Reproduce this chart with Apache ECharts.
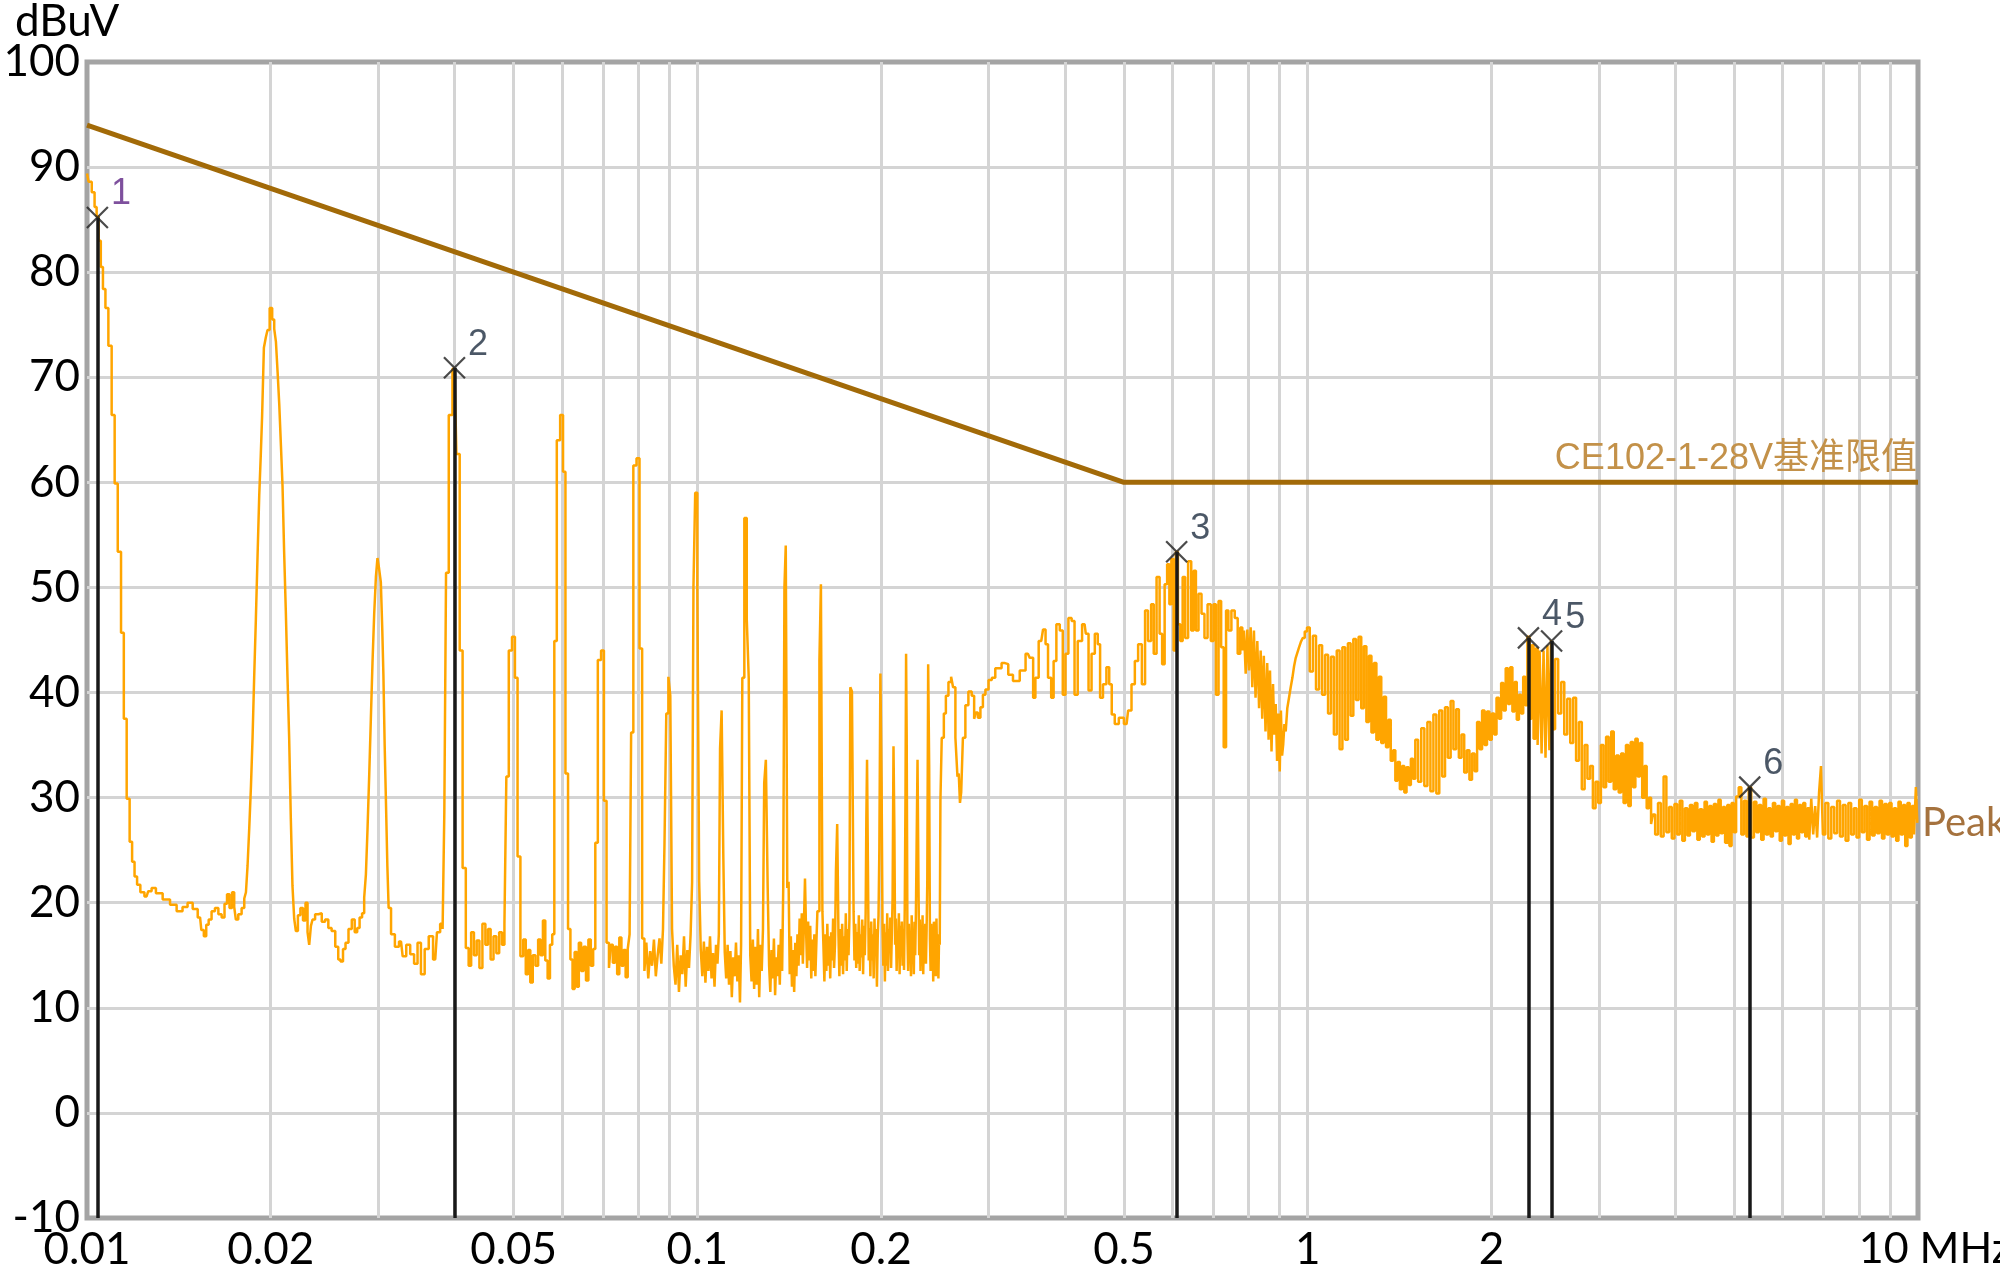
<!DOCTYPE html>
<html>
<head>
<meta charset="utf-8">
<title>CE102 Peak</title>
<script src="https://cdn.jsdelivr.net/npm/echarts/dist/echarts.min.js"></script>
<style>
  html, body { margin: 0; padding: 0; background: #fff; }
  #chart { width: 2000px; height: 1269px; }
</style>
</head>
<body>
<div id="chart"></div>
<script>
// frequency in MHz, level in dBuV
var peakLow = [
  [0.01000, 89.4], [0.01012, 88.6], [0.01024, 87.6], [0.01034, 86.2], [0.01040, 85.3], [0.01050, 83.0],
  [0.01057, 80.5], [0.01067, 78.4], [0.01077, 76.6], [0.01091, 73.0], [0.01104, 66.4], [0.01116, 59.9],
  [0.01130, 53.4], [0.01144, 45.7], [0.01154, 37.5], [0.01169, 29.9], [0.01180, 25.8], [0.01191, 23.9],
  [0.01202, 22.5], [0.01214, 21.7], [0.01232, 21.0], [0.01252, 20.6], [0.01268, 21.1], [0.01284, 21.4],
  [0.01310, 20.9], [0.01351, 20.3], [0.01385, 19.8], [0.01420, 19.2], [0.01448, 19.6], [0.01475, 20.0],
  [0.01505, 19.4], [0.01532, 18.6], [0.01547, 17.4], [0.01561, 16.8], [0.01575, 17.9], [0.01590, 18.4],
  [0.01610, 19.2], [0.01631, 19.5], [0.01652, 18.9], [0.01672, 18.6], [0.01688, 19.9], [0.01704, 20.8],
  [0.01720, 19.5], [0.01737, 21.0], [0.01748, 19.6], [0.01759, 18.4], [0.01780, 18.9], [0.01804, 19.5],
  [0.01816, 20.4], [0.01827, 21.0], [0.01838, 23.5], [0.01850, 27.0], [0.01862, 31.0], [0.01873, 35.7],
  [0.01885, 41.5], [0.01897, 47.0], [0.01909, 53.0], [0.01921, 58.7], [0.01931, 62.5], [0.01941, 66.3],
  [0.01957, 72.8], [0.01970, 73.8], [0.01982, 74.5], [0.02002, 76.6], [0.02020, 75.5], [0.02033, 74.6],
  [0.02046, 73.4], [0.02059, 70.5], [0.02072, 67.4], [0.02085, 63.5], [0.02097, 59.7], [0.02110, 53.5],
  [0.02124, 47.8], [0.02137, 41.5], [0.02151, 35.7], [0.02164, 28.0], [0.02178, 21.6], [0.02192, 18.5],
  [0.02206, 17.3], [0.02226, 18.8], [0.02248, 19.5], [0.02270, 18.3], [0.02291, 20.0], [0.02305, 17.2],
  [0.02320, 16.0], [0.02335, 17.8], [0.02349, 18.4], [0.02380, 18.9], [0.02409, 19.0], [0.02440, 18.2],
  [0.02471, 18.4], [0.02500, 17.6], [0.02533, 17.3], [0.02570, 15.8], [0.02590, 14.6], [0.02614, 14.4],
  [0.02640, 15.6], [0.02664, 16.2], [0.02700, 17.5], [0.02731, 18.4], [0.02760, 17.2], [0.02783, 17.6],
  [0.02810, 18.6], [0.02836, 19.0], [0.02855, 20.5], [0.02873, 22.7], [0.02890, 27.0], [0.02909, 32.0],
  [0.02927, 37.5], [0.02945, 42.8], [0.02965, 47.5], [0.02983, 51.0], [0.03000, 52.8], [0.03020, 51.8],
  [0.03040, 50.5], [0.03053, 46.0], [0.03066, 41.7], [0.03082, 35.0], [0.03098, 29.2], [0.03113, 23.5],
  [0.03128, 19.5]
];

var peakHarmonics = [
  [0.0317, 17.0], [0.0322, 15.8], [0.0327, 16.3], [0.0331, 14.9], [0.0336, 16.0], [0.0341, 15.1], [0.0346, 14.2],
  [0.0350, 16.2], [0.0355, 13.2], [0.0360, 15.6], [0.0366, 16.8], [0.0372, 14.6], [0.0377, 17.2], [0.0381, 18.0],
  [0.0384, 17.5], [0.0386, 28.6], [0.0389, 51.4], [0.0394, 66.4], [0.0400, 70.8], [0.0406, 62.7], [0.0410, 44.0],
  [0.0415, 23.3], [0.0420, 15.7],
  [0.0424, 14.0], [0.0428, 17.2], [0.0433, 15.0], [0.0437, 16.4], [0.0442, 13.8], [0.0447, 18.0], [0.0452, 16.0],
  [0.0456, 17.5], [0.0461, 14.6], [0.0466, 16.8], [0.0471, 15.2], [0.0476, 17.2], [0.0481, 16.0], [0.0485, 18.0],
  [0.0488, 32.0], [0.0494, 44.0], [0.0500, 45.3], [0.0505, 41.4], [0.0510, 24.4], [0.0516, 14.9],
  [0.0521, 16.5], [0.0526, 13.2], [0.0530, 15.5], [0.0535, 12.4], [0.0540, 15.0], [0.0546, 14.0], [0.0551, 16.5],
  [0.0556, 15.0], [0.0561, 18.3], [0.0566, 14.5], [0.0571, 12.8], [0.0576, 16.0], [0.0581, 17.0],
  [0.0585, 44.9], [0.0592, 64.0], [0.0600, 66.4], [0.0605, 61.0], [0.0611, 32.3], [0.0617, 17.5],
  [0.0622, 14.6], [0.0627, 11.8], [0.0632, 15.3], [0.0637, 12.0], [0.0642, 16.2], [0.0648, 13.5], [0.0654, 15.8],
  [0.0660, 12.6], [0.0666, 16.5], [0.0672, 14.0], [0.0678, 15.6],
  [0.0683, 25.7], [0.0691, 43.1], [0.0700, 44.0], [0.0706, 29.7], [0.0714, 16.2],
  [0.0719, 13.8], [0.0724, 16.0], [0.0730, 14.3], [0.0736, 15.8], [0.0742, 13.2], [0.0748, 16.7], [0.0754, 14.0],
  [0.0760, 15.5], [0.0766, 12.9], [0.0772, 15.6], [0.0777, 17.0],
  [0.0781, 36.2], [0.0790, 61.6], [0.0800, 62.3], [0.0808, 44.2], [0.0816, 16.6],
  [0.0822, 13.5], [0.0828, 16.2], [0.0834, 12.8], [0.0840, 15.4], [0.0846, 14.0], [0.0852, 16.5], [0.0858, 13.0],
  [0.0864, 15.0], [0.0870, 16.6], [0.0876, 14.2], [0.0881, 17.5],
  [0.0886, 25.7], [0.0893, 38.0], [0.0900, 41.5], [0.0906, 39.7], [0.0912, 17.5],
  [0.0918, 14.0], [0.0924, 12.2], [0.0930, 16.0], [0.0936, 11.5], [0.0942, 15.0], [0.0948, 13.2], [0.0954, 16.8],
  [0.0960, 12.0], [0.0966, 15.5], [0.0972, 13.8], [0.0978, 17.0],
  [0.0983, 22.0], [0.0988, 50.1], [0.0996, 59.0], [0.1004, 50.0], [0.1010, 22.0], [0.1016, 15.5],
  [0.1022, 13.0], [0.1028, 16.3], [0.1034, 12.4], [0.1040, 15.8], [0.1046, 13.5], [0.1052, 16.8], [0.1058, 12.8],
  [0.1064, 15.2], [0.1070, 12.0], [0.1076, 16.0], [0.1082, 14.2], [0.1087, 17.0],
  [0.1092, 34.7], [0.1100, 38.3], [0.1106, 24.4], [0.1112, 15.3],
  [0.1118, 12.8], [0.1124, 16.0], [0.1130, 12.2], [0.1136, 15.4], [0.1142, 11.0], [0.1148, 14.8], [0.1154, 13.0],
  [0.1160, 16.2], [0.1166, 12.5], [0.1172, 15.0], [0.1177, 10.5],
  [0.1182, 16.0], [0.1188, 41.4], [0.1200, 56.6], [0.1210, 47.0], [0.1218, 41.4], [0.1224, 15.0],
  [0.1230, 12.5], [0.1236, 16.5], [0.1242, 11.8], [0.1248, 15.8], [0.1254, 12.2], [0.1260, 17.5], [0.1266, 11.0],
  [0.1272, 16.0], [0.1278, 13.5], [0.1284, 17.5],
  [0.1290, 31.4], [0.1300, 33.6], [0.1308, 21.4], [0.1314, 14.0],
  [0.1320, 11.5], [0.1326, 15.5], [0.1332, 12.8], [0.1338, 16.6], [0.1344, 11.2], [0.1350, 14.8], [0.1356, 13.0],
  [0.1362, 16.0], [0.1368, 12.2], [0.1374, 17.5], [0.1380, 13.5], [0.1386, 21.8],
  [0.1392, 50.0], [0.1400, 54.0], [0.1408, 21.4], [0.1414, 22.0], [0.1420, 13.2],
  [0.1426, 16.8], [0.1432, 12.0], [0.1438, 15.5], [0.1444, 11.5], [0.1450, 16.2], [0.1456, 13.0], [0.1462, 17.0],
  [0.1468, 14.0], [0.1474, 18.5], [0.1480, 15.0], [0.1486, 19.0], [0.1492, 14.2], [0.1498, 18.0], [0.1504, 22.3],
  [0.1510, 17.5], [0.1516, 13.8], [0.1522, 18.2], [0.1528, 14.5], [0.1534, 17.8], [0.1540, 12.8], [0.1546, 16.5],
  [0.1552, 13.5], [0.1558, 17.0], [0.1564, 13.0], [0.1570, 16.2], [0.1576, 19.2],
  [0.1582, 19.2], [0.1588, 43.1], [0.1600, 50.3], [0.1606, 19.2], [0.1612, 16.0],
  [0.1618, 12.5], [0.1624, 17.0], [0.1630, 13.5], [0.1636, 18.0], [0.1642, 14.0], [0.1648, 16.8], [0.1654, 12.8],
  [0.1660, 17.2], [0.1666, 14.5], [0.1672, 18.5], [0.1678, 13.8], [0.1684, 16.0], [0.1690, 23.1],
  [0.1700, 27.5], [0.1706, 17.0], [0.1712, 13.0],
  [0.1718, 17.5], [0.1724, 14.0], [0.1730, 18.0], [0.1736, 13.2], [0.1742, 16.8], [0.1748, 14.5], [0.1754, 19.0],
  [0.1760, 13.5], [0.1766, 17.5], [0.1772, 15.0], [0.1778, 18.5],
  [0.1784, 40.5], [0.1800, 40.1], [0.1806, 19.2], [0.1812, 14.5],
  [0.1818, 18.0], [0.1824, 13.8], [0.1830, 17.2], [0.1836, 14.2], [0.1842, 18.8], [0.1848, 13.5], [0.1854, 17.0],
  [0.1860, 14.8], [0.1866, 18.4], [0.1872, 13.2], [0.1878, 17.8], [0.1884, 15.0], [0.1890, 19.0],
  [0.1894, 28.0], [0.1900, 33.6], [0.1906, 24.0], [0.1912, 14.5],
  [0.1918, 17.6], [0.1924, 13.0], [0.1930, 18.2], [0.1936, 14.5], [0.1942, 17.0], [0.1948, 12.8], [0.1954, 18.5],
  [0.1960, 15.0], [0.1966, 17.5], [0.1972, 12.0], [0.1978, 16.8], [0.1984, 18.8],
  [0.1990, 25.0], [0.2000, 41.8], [0.2008, 31.4], [0.2014, 17.5],
  [0.2020, 14.0], [0.2026, 18.0], [0.2032, 12.5], [0.2038, 17.2], [0.2044, 14.0], [0.2050, 19.0], [0.2056, 13.5],
  [0.2062, 17.5], [0.2068, 15.2], [0.2074, 18.6], [0.2080, 13.8], [0.2086, 17.0], [0.2092, 20.5],
  [0.2100, 34.9], [0.2106, 27.0], [0.2112, 16.0],
  [0.2118, 18.5], [0.2124, 13.5], [0.2130, 17.0], [0.2136, 14.8], [0.2142, 19.0], [0.2148, 13.2], [0.2154, 17.8],
  [0.2160, 15.0], [0.2166, 18.2], [0.2172, 14.0], [0.2178, 17.5], [0.2184, 13.6], [0.2190, 19.5],
  [0.2196, 30.0], [0.2200, 43.7], [0.2206, 36.0], [0.2212, 17.0],
  [0.2218, 13.5], [0.2224, 18.0], [0.2230, 14.8], [0.2236, 17.2], [0.2242, 13.0], [0.2248, 18.8], [0.2254, 14.5],
  [0.2260, 17.5], [0.2266, 13.2], [0.2272, 18.2], [0.2278, 15.0], [0.2284, 19.0], [0.2290, 25.3],
  [0.2300, 33.6], [0.2306, 22.0], [0.2312, 15.0],
  [0.2318, 18.4], [0.2324, 13.5], [0.2330, 17.8], [0.2336, 14.0], [0.2342, 18.8], [0.2348, 13.2], [0.2354, 17.2],
  [0.2360, 15.0], [0.2366, 18.0], [0.2372, 14.2], [0.2378, 17.5], [0.2384, 22.0],
  [0.2394, 42.7], [0.2402, 33.1], [0.2408, 16.5],
  [0.2414, 13.5], [0.2420, 18.0], [0.2426, 14.0], [0.2432, 17.5], [0.2438, 12.5], [0.2444, 18.2], [0.2450, 14.5],
  [0.2456, 17.0], [0.2462, 13.0], [0.2468, 18.5], [0.2474, 14.2], [0.2480, 17.0], [0.2486, 12.8], [0.2492, 16.5]
];

var peakMid = [
  [0.2499, 16.0], [0.2505, 29.7], [0.2524, 35.7], [0.2545, 38.0], [0.2563, 39.7], [0.2595, 41.0], [0.2615, 41.5],
  [0.2634, 40.5], [0.2661, 35.7], [0.2675, 32.0], [0.2687, 32.3], [0.2700, 29.5], [0.2712, 30.5], [0.2735, 35.7],
  [0.2763, 38.8], [0.2798, 40.1], [0.2833, 39.7], [0.2850, 37.5], [0.2869, 38.1], [0.2895, 37.6], [0.2924, 38.6],
  [0.2950, 39.8], [0.2980, 40.3], [0.3020, 41.2], [0.3055, 41.4], [0.3100, 42.3], [0.3133, 42.3], [0.3170, 42.8],
  [0.3214, 42.7],
  [0.325, 41.7], [0.333, 41.1], [0.342, 42.1], [0.348, 43.7], [0.353, 43.3], [0.357, 39.5], [0.359, 41.4],
  [0.366, 44.9], [0.371, 46.0], [0.373, 44.6], [0.378, 41.4], [0.382, 39.5], [0.385, 43.0], [0.390, 46.5],
  [0.395, 45.9], [0.399, 39.8], [0.403, 43.7], [0.408, 47.1], [0.413, 46.8], [0.417, 39.8], [0.423, 44.9],
  [0.431, 46.5], [0.435, 45.6], [0.440, 40.2], [0.445, 43.7], [0.451, 45.6], [0.455, 44.6], [0.459, 39.5],
  [0.465, 40.8], [0.471, 42.4], [0.475, 40.8], [0.480, 37.9], [0.486, 37.0], [0.495, 37.6], [0.505, 37.0],
  [0.511, 38.3], [0.518, 40.8], [0.524, 43.0], [0.531, 44.6], [0.539, 40.8], [0.544, 47.8], [0.551, 44.9],
  [0.557, 48.4], [0.562, 43.7], [0.569, 51.0], [0.575, 45.6], [0.580, 42.7], [0.586, 50.3], [0.591, 52.2],
  [0.596, 48.4], [0.600, 52.7], [0.606, 44.0], [0.610, 53.4], [0.616, 46.5], [0.621, 44.9], [0.627, 51.0],
  [0.633, 45.2], [0.641, 52.5], [0.648, 45.9], [0.653, 51.6], [0.659, 45.9], [0.666, 49.4], [0.674, 47.5],
  [0.681, 45.2], [0.690, 48.4], [0.698, 44.9], [0.704, 48.4], [0.711, 39.8], [0.718, 48.7], [0.725, 44.3],
  [0.732, 34.8], [0.738, 47.8], [0.745, 45.9], [0.755, 47.8], [0.764, 47.1], [0.772, 43.7], [0.779, 46.2],
  [0.784, 44.0], [0.789, 45.9], [0.794, 41.8], [0.799, 46.0], [0.804, 42.1], [0.809, 46.2], [0.814, 40.5],
  [0.819, 45.9], [0.824, 39.5], [0.830, 44.9], [0.835, 38.5], [0.840, 44.0], [0.845, 37.5], [0.850, 43.5],
  [0.856, 36.3], [0.861, 42.8], [0.865, 35.5], [0.870, 42.1], [0.875, 34.4], [0.880, 40.8], [0.884, 36.0],
  [0.889, 38.9], [0.893, 33.5], [0.898, 38.0], [0.902, 32.5], [0.906, 38.3], [0.910, 34.0], [0.914, 35.1],
  [0.918, 37.0], [0.923, 36.3], [0.929, 38.5], [0.935, 39.5], [0.941, 40.5], [0.947, 41.4], [0.953, 42.5],
  [0.959, 43.3], [0.965, 43.8], [0.971, 44.3], [0.978, 44.8], [0.985, 45.2], [0.993, 45.8], [1.002, 46.2]
];

var peakBand = [
  [1.014, 42.0], [1.026, 45.4], [1.038, 40.3], [1.050, 44.5], [1.062, 39.8], [1.074, 43.6], [1.086, 38.0],
  [1.098, 43.4], [1.110, 36.0], [1.122, 44.0], [1.134, 34.6], [1.146, 44.3], [1.158, 35.5], [1.170, 44.7],
  [1.182, 37.8], [1.194, 45.1], [1.206, 39.3], [1.218, 45.3], [1.230, 38.5], [1.242, 44.4], [1.254, 37.2],
  [1.266, 43.5], [1.278, 36.2], [1.290, 42.8], [1.302, 35.5], [1.314, 41.5], [1.326, 35.2], [1.338, 39.6],
  [1.350, 34.8], [1.362, 37.4], [1.374, 33.5], [1.386, 34.5], [1.398, 31.6], [1.410, 33.4], [1.422, 30.8],
  [1.434, 33.0], [1.446, 30.5], [1.458, 32.9], [1.470, 31.2], [1.482, 33.7], [1.494, 31.8],
  [1.508, 35.5], [1.526, 31.5], [1.544, 36.6], [1.562, 31.1], [1.580, 37.2], [1.598, 30.6], [1.616, 37.9],
  [1.634, 30.4], [1.652, 38.3], [1.670, 32.0], [1.688, 38.6], [1.706, 33.8], [1.724, 39.2], [1.742, 34.6],
  [1.760, 38.4], [1.778, 33.8], [1.796, 36.0], [1.814, 32.4], [1.832, 34.5], [1.850, 31.7], [1.868, 34.2],
  [1.886, 32.5], [1.904, 37.2], [1.922, 34.6], [1.940, 38.3], [1.958, 35.0], [1.976, 38.2], [1.994, 35.5],
  [2.012, 38.0], [2.030, 36.0], [2.048, 39.5], [2.066, 37.5], [2.084, 40.9], [2.102, 38.3], [2.120, 42.3],
  [2.138, 38.9], [2.156, 42.4], [2.174, 38.2], [2.192, 41.0], [2.210, 37.4], [2.228, 39.8], [2.246, 38.0],
  [2.264, 41.5], [2.282, 38.8], [2.300, 45.3], [2.318, 37.5], [2.336, 44.5], [2.354, 35.6], [2.372, 44.2],
  [2.390, 35.0], [2.408, 44.0], [2.426, 34.2], [2.444, 44.0], [2.462, 33.8], [2.480, 44.5], [2.498, 34.5],
  [2.510, 45.0],
  [2.528, 36.5], [2.558, 43.2], [2.588, 38.0], [2.618, 41.0], [2.648, 36.0], [2.678, 39.4], [2.708, 35.2],
  [2.738, 39.5], [2.768, 33.5], [2.798, 37.2], [2.828, 30.8], [2.858, 35.0], [2.888, 31.8], [2.918, 33.0],
  [2.948, 29.0], [2.978, 31.5], [3.008, 29.5], [3.038, 35.0], [3.068, 31.0], [3.098, 35.8], [3.128, 31.5],
  [3.158, 36.3], [3.188, 30.8], [3.218, 34.0], [3.248, 30.5], [3.278, 34.2], [3.308, 29.5], [3.338, 35.0],
  [3.368, 29.2], [3.398, 35.3], [3.428, 31.0], [3.458, 35.6], [3.488, 32.0], [3.518, 35.2], [3.548, 30.0],
  [3.578, 33.0], [3.608, 29.0], [3.638, 30.0], [3.668, 27.5], [3.690, 28.4]
];

var peakTail = [
  [3.73, 26.5], [3.77, 29.5], [3.81, 26.3], [3.85, 32.0], [3.89, 26.7], [3.93, 29.1], [3.97, 26.1], [4.01, 29.4],
  [4.05, 26.5], [4.09, 29.7], [4.13, 25.9], [4.17, 29.0], [4.21, 26.4], [4.25, 29.3], [4.29, 26.8], [4.33, 29.5],
  [4.37, 26.0], [4.41, 28.9], [4.45, 26.3], [4.49, 29.6], [4.53, 26.5], [4.57, 29.2], [4.61, 25.8], [4.65, 29.4],
  [4.69, 26.4], [4.73, 29.8], [4.77, 26.6], [4.81, 29.1], [4.85, 25.7], [4.89, 29.3], [4.93, 25.4], [4.97, 29.5],
  [5.01, 26.7], [5.06, 30.1], [5.11, 31.0], [5.16, 26.5], [5.21, 29.7], [5.26, 26.3], [5.30, 31.0], [5.36, 26.2],
  [5.41, 29.6], [5.46, 26.7], [5.51, 29.3], [5.56, 26.0], [5.61, 29.9], [5.66, 26.5], [5.71, 29.0], [5.76, 26.3],
  [5.81, 29.5], [5.86, 26.8], [5.91, 29.2], [5.96, 25.9], [6.01, 29.7], [6.06, 26.4], [6.11, 29.1], [6.16, 25.6],
  [6.21, 29.4], [6.26, 26.5], [6.31, 29.8], [6.36, 26.1], [6.41, 29.3], [6.46, 26.7], [6.51, 29.5], [6.56, 26.3],
  [6.61, 29.0], [6.66, 26.0], [6.71, 29.9], [6.76, 26.5], [6.81, 29.2], [6.86, 26.2], [6.91, 30.5], [6.96, 33.0],
  [7.01, 26.5], [7.09, 29.5], [7.17, 26.1], [7.25, 29.1], [7.33, 26.6], [7.41, 29.7], [7.49, 26.3], [7.57, 29.3],
  [7.65, 25.9], [7.73, 29.5], [7.81, 26.5], [7.89, 29.0], [7.97, 26.2], [8.05, 29.8], [8.13, 26.7], [8.21, 29.2],
  [8.29, 26.0], [8.37, 29.6], [8.45, 26.4], [8.53, 29.1], [8.61, 26.6], [8.69, 29.7], [8.77, 26.1], [8.85, 29.4],
  [8.93, 26.5], [9.01, 29.5], [9.09, 26.3], [9.17, 29.0], [9.25, 25.9], [9.33, 29.6], [9.41, 26.5], [9.49, 29.3],
  [9.57, 25.4], [9.65, 29.5], [9.73, 26.2], [9.81, 29.2], [9.89, 26.5], [9.95, 31.0], [10.0, 27.6]
];

var limitFreq = [0.01, 0.5, 10];
var limitLevel = [94, 60, 60];
var limitName = 'CE102-1-28V基准限值';

var markerName = ['1', '2', '3', '4', '5', '6'];
var markerFreq = [0.0104, 0.0400, 0.610, 2.30, 2.51, 5.30];
var markerLevel = [85.2, 70.9, 53.4, 45.2, 44.9, 31.0];

var gridFreq = [0.01, 0.02, 0.03, 0.04, 0.05, 0.06, 0.07, 0.08, 0.09,
  0.1, 0.2, 0.3, 0.4, 0.5, 0.6, 0.7, 0.8, 0.9,
  1, 2, 3, 4, 5, 6, 7, 8, 9, 10];
var labelFreq = [0.01, 0.02, 0.05, 0.1, 0.2, 0.5, 1, 2, 10];
var labelText = ['0.01', '0.02', '0.05', '0.1', '0.2', '0.5', '1', '2', '10 MHz'];

var yMin = -10, yMax = 100, yStep = 10;

function lx(f) { return Math.log10(f); }

var peak = [].concat(peakLow, peakHarmonics, peakMid, peakBand, peakTail).map(function (p) {
  return [lx(p[0]), p[1]];
});

var chart = echarts.init(document.getElementById('chart'));

var axisFont = 'Lato, "Open Sans", sans-serif';

var titleText = {
  type: 'text', left: 15, top: 0, z: 10,
  style: { text: 'dBuV', fontSize: 44, fontFamily: axisFont, fill: '#000' }
};

var option = {
  animation: false,
  backgroundColor: '#fff',
  grid: {
    left: 87, right: 82, top: 62, bottom: 51,
    show: true,
    borderColor: '#a4a4a4',
    borderWidth: 5,
    backgroundColor: 'transparent',
    containLabel: false,
    outerBoundsMode: 'none'
  },
  graphic: [titleText],
  xAxis: {
    type: 'value',
    min: lx(0.01),
    max: lx(10),
    axisLine: { show: false },
    axisTick: { show: false, customValues: gridFreq.map(lx) },
    axisLabel: {
      customValues: labelFreq.map(lx),
      margin: 10,
      fontSize: 44,
      fontFamily: axisFont,
      color: '#000',
      formatter: function (v) {
        for (var i = 0; i < labelFreq.length; i++) {
          if (Math.abs(lx(labelFreq[i]) - v) < 1e-6) {
            // last label sits a bit right of its tick, as in the original
            return i === labelFreq.length - 1 ? '{unit|' + labelText[i] + '}' : labelText[i];
          }
        }
        return '';
      },
      rich: {
        unit: { padding: [0, 0, 0, 34], fontSize: 43, fontFamily: axisFont, color: '#000' }
      }
    },
    splitLine: {
      show: true,
      showMinLine: false,
      showMaxLine: false,
      lineStyle: { color: '#d4d4d4', width: 3 }
    }
  },
  yAxis: {
    type: 'value',
    min: yMin,
    max: yMax,
    interval: yStep,
    axisLine: { show: false },
    axisTick: { show: false },
    axisLabel: { margin: 7, fontSize: 44, fontFamily: axisFont, color: '#000' },
    splitLine: {
      show: true,
      showMinLine: false,
      showMaxLine: false,
      lineStyle: { color: '#d4d4d4', width: 3 }
    }
  },
  series: [
    {
      name: 'Peak',
      type: 'line',
      data: peak,
      step: 'middle',
      showSymbol: false,
      symbol: 'none',
      lineStyle: { color: '#ffa500', width: 2.5 },
      z: 3,
      endLabel: {
        show: true,
        formatter: 'Peak',
        color: '#a5723e',
        fontSize: 40,
        fontFamily: axisFont,
        distance: 4
      }
    },
    {
      name: limitName,
      type: 'line',
      data: limitFreq.map(function (f, i) { return [lx(f), limitLevel[i]]; }),
      showSymbol: false,
      symbol: 'none',
      lineStyle: { color: '#a26a08', width: 5 },
      z: 4
    },
    {
      name: 'markers',
      type: 'scatter',
      z: 6,
      symbol: 'path://M0,0L20,20M20,0L0,20',
      symbolSize: 21,
      itemStyle: { color: 'rgba(0,0,0,0)', borderColor: '#1e1e1e', borderWidth: 2.2 },
      label: {
        show: true,
        position: 'right',
        distance: 2,
        offset: [0, -23],
        fontSize: 36,
        fontFamily: '"Liberation Sans", Arial, sans-serif',
        formatter: function (p) { return markerName[p.dataIndex]; }
      },
      data: markerFreq.map(function (f, i) {
        return {
          value: [lx(f), markerLevel[i]],
          label: { color: i === 0 ? '#5e2484' : '#1e2d40' }
        };
      }),
      markLine: {
        silent: true,
        symbol: ['none', 'none'],
        label: { show: false },
        lineStyle: { color: '#181818', width: 3.5, type: 'solid' },
        data: markerFreq.map(function (f, i) {
          return [{ coord: [lx(f), yMin] }, { coord: [lx(f), markerLevel[i]] }];
        })
      }
    }
  ]
};

chart.setOption(option);

// limit line name, right aligned just above the flat part of the limit
var endPt = chart.convertToPixel({ gridIndex: 0 }, [lx(limitFreq[limitFreq.length - 1]), limitLevel[limitLevel.length - 1]]);
chart.setOption({
  graphic: [
    titleText,
    {
      type: 'text', z: 10,
      x: endPt[0] - 1,
      y: endPt[1] - 5,
      style: {
        text: limitName,
        align: 'right',
        verticalAlign: 'bottom',
        fontSize: 36,
        fontFamily: '"Liberation Sans", "Noto Sans CJK SC", sans-serif',
        fill: '#c39149'
      }
    }
  ]
});

window.addEventListener('resize', function () { chart.resize(); });
</script>
</body>
</html>
